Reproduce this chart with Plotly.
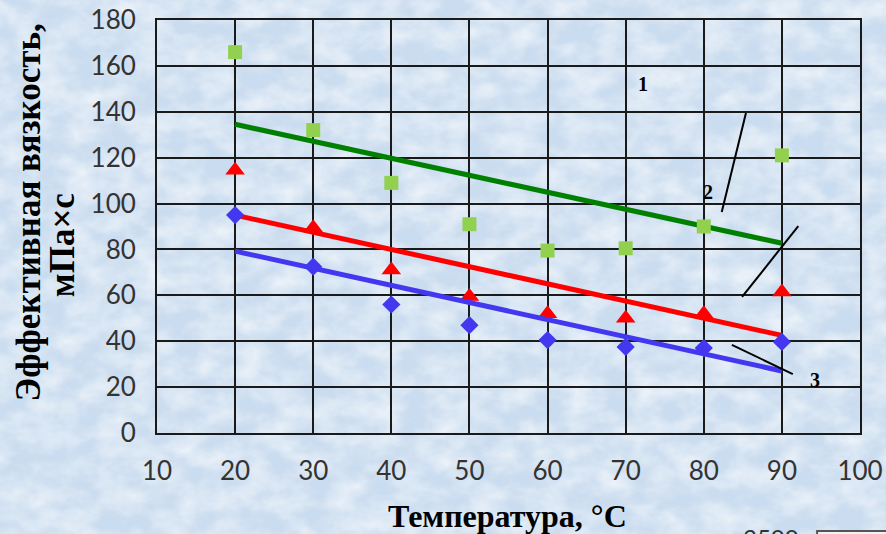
import base64
import numpy as np
import plotly.graph_objects as go

# Temperature, °C
temperature = [20, 30, 40, 50, 60, 70, 80, 90]

# Effective viscosity, mPa·s
viscosity_1 = [166, 132, 109, 91, 79.5, 80.5, 90, 121]      # green squares
viscosity_2 = [114.5, 89.5, 71, 59.5, 52, 50, 52, 61.5]     # red triangles
viscosity_3 = [95, 72.5, 56, 47, 40.5, 37.5, 37, 39.7]      # blue diamonds

x_ticks = [10, 20, 30, 40, 50, 60, 70, 80, 90, 100]
y_ticks = [0, 20, 40, 60, 80, 100, 120, 140, 160, 180]

# curve numbers and their leader lines (data coordinates)
curve_labels = ["1", "2", "3"]
label_x = [72.2, 80.6, 94.3]
label_y = [152, 105, 23]
leader_x0 = [85.4, 92.1, 83.6]
leader_y0 = [139.5, 90.2, 38.4]
leader_x1 = [82.3, 84.9, 91.4]
leader_y1 = [96.3, 59.3, 25.7]


def linear_trend(x, y):
    k, b = np.polyfit(x, y, 1)
    xs = np.array([min(x), max(x)])
    return xs, k * xs + b


# mottled light-blue backdrop
backdrop_svg = """<svg xmlns='http://www.w3.org/2000/svg' width='886' height='534'>
<filter id='n' x='0' y='0' width='100%' height='100%'>
<feTurbulence type='fractalNoise' baseFrequency='0.03 0.045' numOctaves='4' seed='7'/>
<feColorMatrix type='matrix' values='0 0 0 0 1  0 0 0 0 1  0 0 0 0 1  0 0 0 -1.8 1.25'/>
</filter>
<rect width='886' height='534' fill='#cadcef'/>
<rect width='886' height='534' filter='url(#n)' opacity='0.6'/>
</svg>"""
backdrop_uri = "data:image/svg+xml;base64," + base64.b64encode(backdrop_svg.encode()).decode()

fig = go.Figure()

series = [
    (viscosity_1, "#92D050", "#008000", "square", 14),
    (viscosity_2, "#FF0000", "#FF0000", "triangle-up", 17),
    (viscosity_3, "#4338F0", "#4338F0", "diamond", 14),
]

for values, marker_color, line_color, symbol, size in series:
    tx, ty = linear_trend(temperature, values)
    fig.add_trace(go.Scatter(
        x=tx, y=ty, mode="lines",
        line=dict(color=line_color, width=5),
        hoverinfo="skip", showlegend=False,
    ))
    fig.add_trace(go.Scatter(
        x=temperature, y=values, mode="markers",
        marker=dict(symbol=symbol, size=size, color=marker_color, line=dict(width=0)),
        showlegend=False,
    ))

for i, lab in enumerate(curve_labels):
    fig.add_annotation(
        x=label_x[i], y=label_y[i], text=f"<b>{lab}</b>", showarrow=False,
        font=dict(family="Liberation Serif", size=20, color="#000000"),
    )
    fig.add_shape(
        type="line", xref="x", yref="y",
        x0=leader_x0[i], y0=leader_y0[i], x1=leader_x1[i], y1=leader_y1[i],
        line=dict(color="#000000", width=2),
    )

fig.add_annotation(
    xref="paper", yref="paper", x=0.499, y=-0.200,
    xanchor="center", yanchor="middle",
    text="<b>Температура, °C</b>", showarrow=False,
    font=dict(family="Liberation Serif", size=32, color="#000000"),
)
ytitle_font = dict(family="Liberation Serif", size=35, color="#000000")
fig.add_annotation(
    xref="paper", yref="paper", x=-0.183, y=0.535, textangle=-90,
    xanchor="center", yanchor="middle",
    text="<b>Эффективная вязкость,</b>", showarrow=False, font=ytitle_font,
)
fig.add_annotation(
    xref="paper", yref="paper", x=-0.135, y=0.455, textangle=-90,
    xanchor="center", yanchor="middle",
    text="<b>мПа×с</b>", showarrow=False, font=ytitle_font,
)

# fragments of the neighbouring chart at the page edge
fig.add_annotation(
    xref="paper", yref="paper", x=0.873, y=-0.212, xanchor="center", yanchor="top",
    text="3500", showarrow=False, font=dict(family="Lato", size=24, color="#333333"),
)
fig.add_shape(
    type="rect", xref="paper", yref="paper",
    x0=0.939, x1=1.05, y0=-0.237, y1=-0.30,
    line=dict(color="#555555", width=2), fillcolor="#f2f2f2",
)

axis_common = dict(
    showgrid=True, gridcolor="#1a1a1a", gridwidth=2,
    showline=True, linecolor="#1a1a1a", linewidth=2, mirror=True,
    zeroline=False, ticks="", automargin=False,
    tickfont=dict(family="Lato", size=26, color="#333333"),
)

fig.update_layout(
    width=886, height=534,
    margin=dict(l=157, r=26, t=20, b=101),
    paper_bgcolor="#d6e5f3",
    plot_bgcolor="#EEEBE1",
    xaxis=dict(range=[10, 100], tickvals=x_ticks, ticklabelstandoff=14, **axis_common),
    yaxis=dict(range=[0, 180], tickvals=y_ticks, ticklabelstandoff=14, **axis_common),
    images=[dict(
        source=backdrop_uri, xref="paper", yref="paper",
        x=-157 / 703, y=1 + 20 / 413, sizex=886 / 703, sizey=534 / 413,
        xanchor="left", yanchor="top", sizing="stretch", layer="below",
    )],
)

fig.write_html("out.html")
